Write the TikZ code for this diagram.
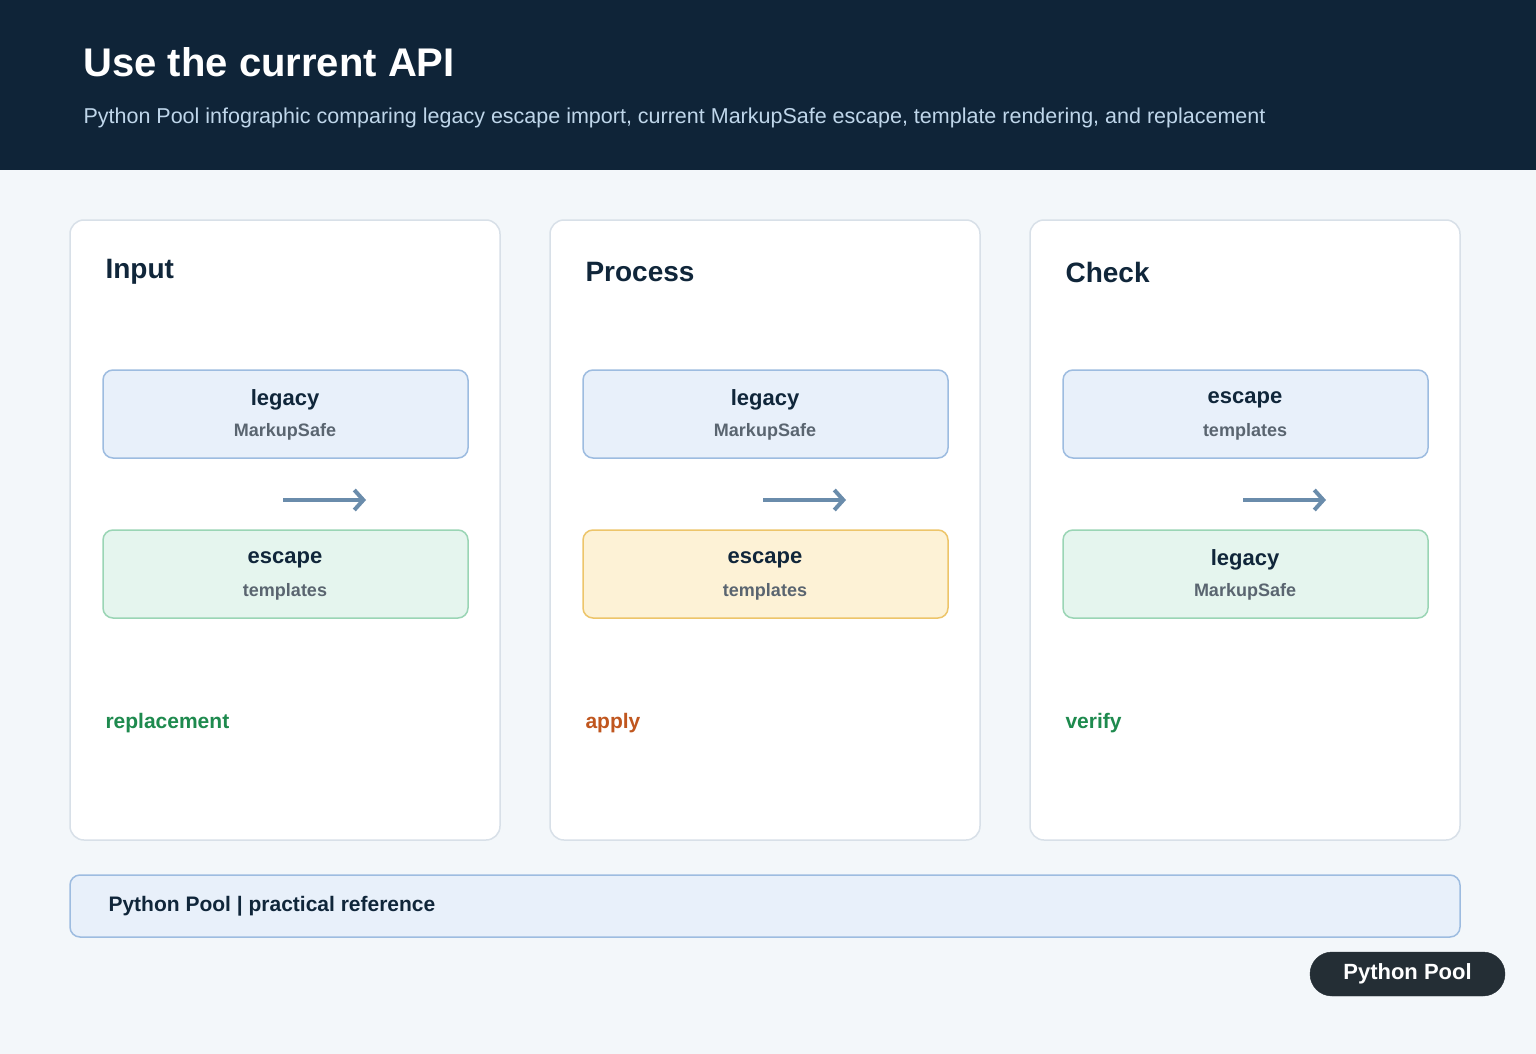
\documentclass[tikz,border=0pt]{standalone}
\usepackage{fontspec}
\setmainfont{Liberation Sans}
\definecolor{hdr}{HTML}{0F2438}
\definecolor{bg}{HTML}{F3F7FA}
\definecolor{sub}{HTML}{BFD6EA}
\definecolor{ink}{HTML}{10263A}
\definecolor{pborder}{HTML}{D8E0E8}
\definecolor{bluef}{HTML}{E8F0FA}
\definecolor{blueb}{HTML}{9DBCE0}
\definecolor{greenf}{HTML}{E5F5EE}
\definecolor{greenb}{HTML}{9AD5B5}
\definecolor{yelf}{HTML}{FDF2D6}
\definecolor{yelb}{HTML}{EDC56A}
\definecolor{grey}{HTML}{5A6570}
\definecolor{arr}{HTML}{6A8CAB}
\definecolor{lgreen}{HTML}{1E8A4E}
\definecolor{lorange}{HTML}{C0561E}
\definecolor{badge}{HTML}{242E35}
\newcommand{\fs}[1]{\fontsize{#1}{#1}\selectfont}
\tikzset{
 panel/.style={draw=pborder,line width=1.5pt,fill=white,rounded corners=14pt},
 box/.style={line width=1.5pt,rounded corners=10pt},
 bluebox/.style={box,fill=bluef,draw=blueb},
 greenbox/.style={box,fill=greenf,draw=greenb},
 yelbox/.style={box,fill=yelf,draw=yelb},
 ptitle/.style={anchor=west,text=ink,font=\fs{28}\bfseries},
 main/.style={text=ink,font=\fs{22}\bfseries},
 subt/.style={text=grey,font=\fs{18}\bfseries},
 lab/.style={anchor=west,font=\fs{21}\bfseries},
 flow/.style={draw=arr,line width=4pt,-{Straight Barb[length=9pt,width=20pt]}},
}
\usetikzlibrary{arrows.meta}
\begin{document}
\begin{tikzpicture}[x=1pt,y=-1pt]
\fill[bg] (0,0) rectangle (1536,1054);
\useasboundingbox (0,0) rectangle (1536,1054);
\fill[hdr] (0,0) rectangle (1536,170);
\node[anchor=west,text=white,font=\fs{40}\bfseries] (title) at (80,62) {Use the current API};
\node[anchor=west,text=sub,font=\fs{21.5}] (subtitle) at (80,118) {Python Pool infographic comparing legacy escape import, current MarkupSafe escape, template rendering, and replacement};
\foreach \x/\t/\ta/\sa/\st/\tb/\sb/\l/\lc [count=\i] in {70/Input/legacy/MarkupSafe/greenbox/escape/templates/replacement/lgreen,550/Process/legacy/MarkupSafe/yelbox/escape/templates/apply/lorange,1030/Check/escape/templates/greenbox/legacy/MarkupSafe/verify/lgreen}{
 \draw[panel] (\x,220) rectangle (\x+430,840);
 \node[ptitle] (pt\i) at (\x+32,272) {\t};
 \draw[bluebox] (\x+33,370) rectangle (\x+398,458);
 \node[main] (ta\i) at (\x+215,400) {\ta};
 \node[subt] (sa\i) at (\x+215,432) {\sa};
 \draw[\st] (\x+33,530) rectangle (\x+398,618);
 \node[main] (tb\i) at (\x+215,560) {\tb};
 \node[subt] (sb\i) at (\x+215,592) {\sb};
 \coordinate (a\i) at (\x+213,500);
 \coordinate (b\i) at (\x+296,500);
 \draw[flow] (a\i) -- (b\i);
 \node[lab,text=\lc] (l\i) at (\x+32,723) {\l};
}
\draw[line width=1.5pt,draw=blueb,fill=bluef,rounded corners=10pt] (70,875) rectangle (1460,937);
\node[anchor=west,text=ink,font=\fs{21}\bfseries] (foot) at (105,906) {Python Pool | practical reference};
\draw[fill=badge,draw=badge,rounded corners=22pt] (1310,952) rectangle (1505,996);
\node[text=white,font=\fs{22}\bfseries] (badge) at (1407.5,974) {Python Pool};
\end{tikzpicture}
\end{document}
